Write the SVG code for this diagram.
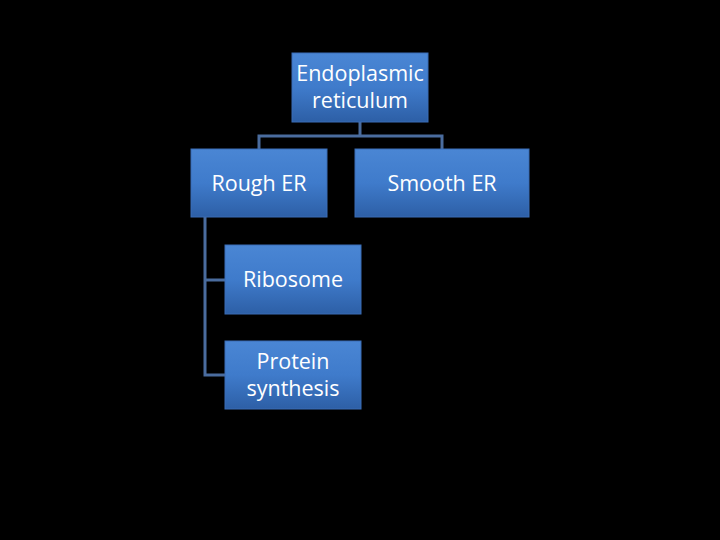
<svg xmlns="http://www.w3.org/2000/svg" width="720" height="540" viewBox="0 0 720 540">
<defs>
<linearGradient id="g" x1="0" y1="0" x2="0" y2="1">
<stop offset="0" stop-color="#4a86d4"/>
<stop offset="0.5" stop-color="#3f7bcb"/>
<stop offset="1" stop-color="#2d5fa6"/>
</linearGradient>
</defs>
<style>
.box{fill:url(#g);stroke:#3a6db5;stroke-width:1}
.t{font-family:"Open Sans","Liberation Sans",sans-serif;font-size:21.5px;fill:#ffffff;text-anchor:middle}
.c{fill:none;stroke:#4a6c9e;stroke-width:3}
</style>
<rect width="720" height="540" fill="#000000"/>
<g id="connectors">
<path class="c" d="M360 122V136M259 149V136H442V149"/>
<path class="c" d="M205 217V375H225M205 280H225"/>
</g>
<g id="er">
<rect class="box" x="292" y="53" width="136" height="69"/>
<text class="t" x="360" y="81">Endoplasmic</text>
<text class="t" x="360" y="108">reticulum</text>
</g>
<g id="rough">
<rect class="box" x="191" y="149" width="136" height="68"/>
<text class="t" x="259" y="191">Rough ER</text>
</g>
<g id="smooth">
<rect class="box" x="355" y="149" width="174" height="68"/>
<text class="t" x="442" y="191">Smooth ER</text>
</g>
<g id="ribosome">
<rect class="box" x="225" y="245" width="136" height="69"/>
<text class="t" x="293" y="287">Ribosome</text>
</g>
<g id="protein">
<rect class="box" x="225" y="341" width="136" height="68"/>
<text class="t" x="293" y="369">Protein</text>
<text class="t" x="293" y="396">synthesis</text>
</g>
</svg>
